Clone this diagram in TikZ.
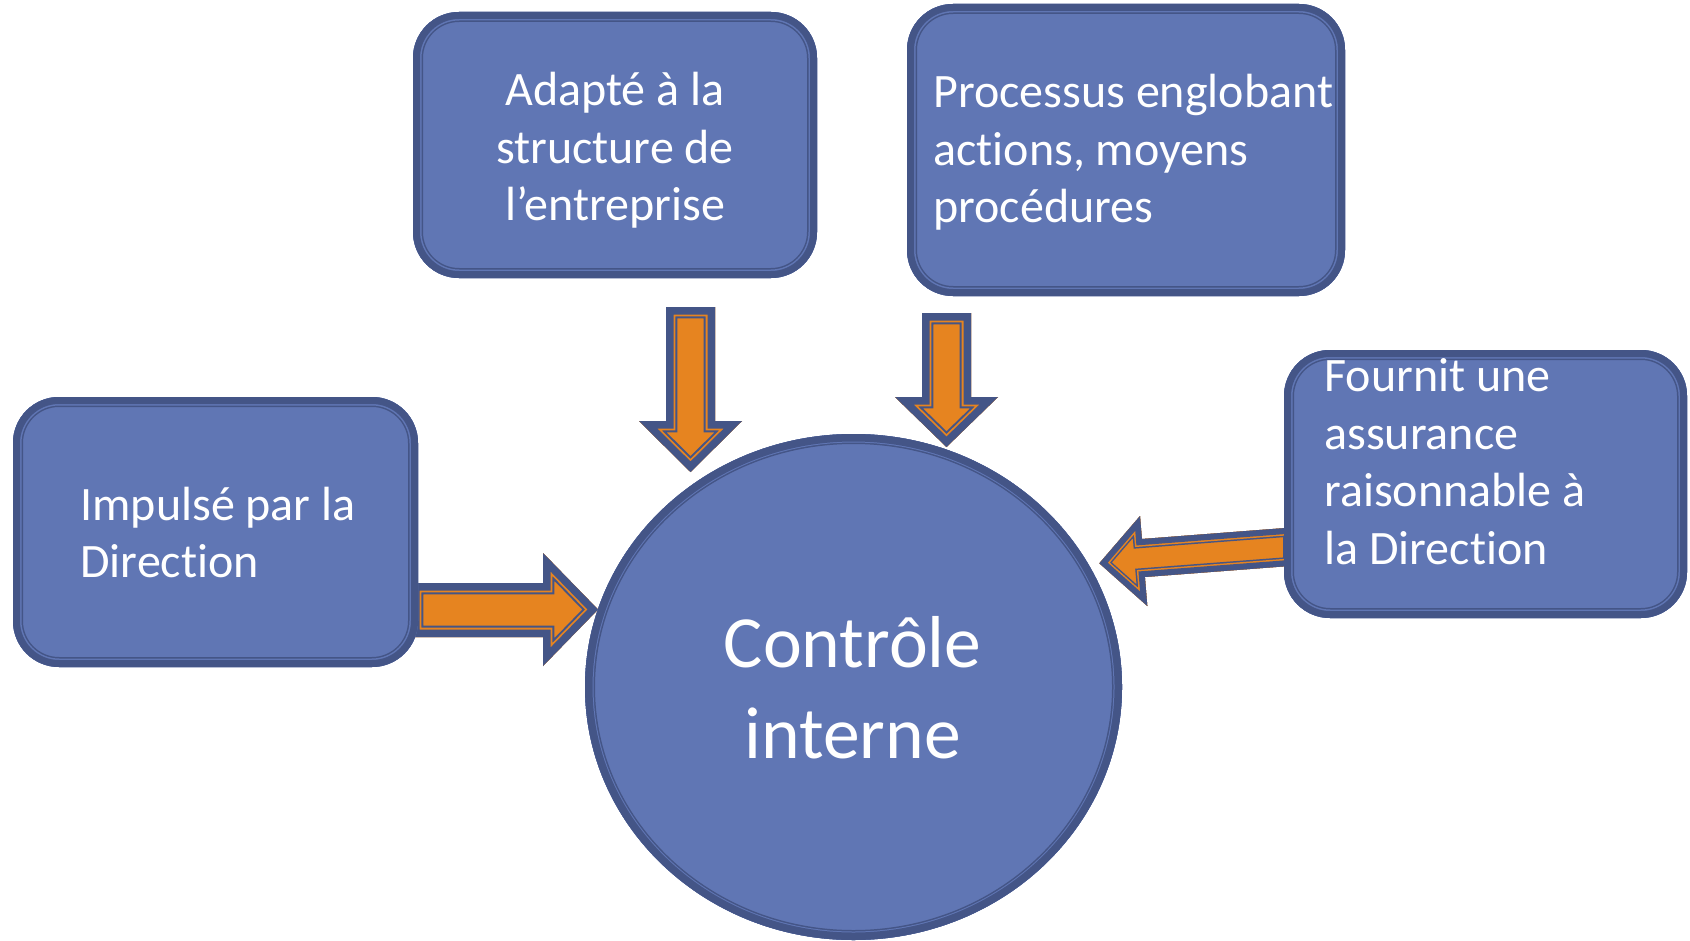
\documentclass[tikz,border=0pt]{standalone}
\usepackage{fontspec}
\setmainfont{Carlito}[Ligatures={NoCommon}]
\usetikzlibrary{shapes.geometric}
\definecolor{boxfill}{RGB}{96,118,180}
\definecolor{boxedge}{RGB}{68,85,135}
\definecolor{arrfill}{RGB}{230,132,32}
% block arrow with banded border: #1 path, #2 #3 #4 depths (px)
\newcommand\blockarrow[4]{%
  \fill[arrfill] #1;
  \begin{scope}
    \clip #1;
    \draw[boxedge, line width=#4pt, miter limit=20] #1;
    \draw[arrfill, line width=#3pt, miter limit=20] #1;
    \draw[boxedge, line width=#2pt, miter limit=20] #1;
  \end{scope}}
\tikzset{
  box/.style={rectangle, rounded corners=23pt, fill=boxfill, inner sep=0pt,
    path picture={
      \draw[boxedge, line width=10pt, rounded corners=23pt] (path picture bounding box.south west) rectangle (path picture bounding box.north east);
      \draw[boxfill, line width=8.5pt, rounded corners=23pt] (path picture bounding box.south west) rectangle (path picture bounding box.north east);
      \draw[boxedge, line width=7pt, rounded corners=23pt] (path picture bounding box.south west) rectangle (path picture bounding box.north east);
    }},
  circ/.style={ellipse, fill=boxfill, inner sep=0pt,
    minimum width=268.5pt, minimum height=253pt,
    path picture={
      \draw[boxedge, line width=10pt] (path picture bounding box.center) ellipse [x radius=134.25pt, y radius=126.5pt];
      \draw[boxfill, line width=8.5pt] (path picture bounding box.center) ellipse [x radius=134.25pt, y radius=126.5pt];
      \draw[boxedge, line width=7.5pt] (path picture bounding box.center) ellipse [x radius=134.25pt, y radius=126.5pt];
    }},
  txt/.style={text=white, inner sep=0pt, font=\fontsize{24pt}{28.75pt}\selectfont},
  bigtxt/.style={text=white, inner sep=0pt, font=\fontsize{36.8pt}{45.6pt}\selectfont}
}
\begin{document}
\begin{tikzpicture}[x=0.5pt, y=-0.5pt]
\fill[white] (0,0) rectangle (1690,941);
\useasboundingbox (0,0) rectangle (1690,941);

% block arrows
\blockarrow{(666,307) -- (715,307) -- (715,421) -- (742,421) -- (690.5,472) -- (639,421) -- (666,421) -- cycle}{7.5}{9.3}{11.3}
\blockarrow{(922,313) -- (971,313) -- (971,397) -- (998,397) -- (946.5,447) -- (895,397) -- (922,397) -- cycle}{7.5}{9.3}{11.3}
\blockarrow{(412,583) -- (543,583) -- (543,553) -- (598,609.5) -- (543,666) -- (543,637) -- (412,637) -- cycle}{7.5}{9.3}{11.3}
\blockarrow{(1292,527.5) -- (1141.9,539) -- (1140,516) -- (1099.3,563.3) -- (1147.3,606) -- (1144.9,577) -- (1292,565.8) -- cycle}{6}{7.5}{9}

% boxes and circle
\node[box, minimum width=202pt, minimum height=133pt] (adapte) at (615,145) {};
\node[box, minimum width=219pt, minimum height=146pt] (processus) at (1126,150) {};
\node[box, minimum width=201.5pt, minimum height=134pt] (fournit) at (1485.5,484) {};
\node[box, minimum width=202.5pt, minimum height=135pt] (impulse) at (215.5,532) {};
\node[circ] (controle) at (853.5,687) {};

% texts
\node[txt, anchor=base] (tadapte) at (615,106)
  {\begin{tabular}[t]{@{}c@{}}Adapté à la\\structure de\\l’entreprise\end{tabular}};
\node[txt, anchor=base west] (tprocessus) at (933,108)
  {\begin{tabular}[t]{@{}l@{}}Processus englobant\\actions, moyens\\procédures\end{tabular}};
\node[txt, anchor=base west] (tfournit) at (1324,391.7)
  {\begin{tabular}[t]{@{}l@{}}Fournit une\\assurance\\raisonnable à\\la Direction\end{tabular}};
\node[txt, anchor=base west] (timpulse) at (80,520)
  {\begin{tabular}[t]{@{}l@{}}Impulsé par la\\Direction\end{tabular}};
\node[bigtxt, anchor=base] (tcontrole) at (852.6,667.5)
  {\begin{tabular}[t]{@{}c@{}}Contrôle\\interne\end{tabular}};
\end{tikzpicture}
\end{document}
